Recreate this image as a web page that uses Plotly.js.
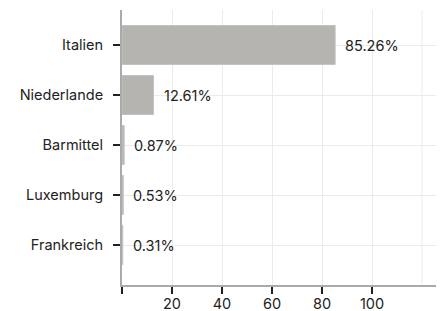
<!DOCTYPE html>
<html><head><meta charset="utf-8">
<script src="https://cdn.plot.ly/plotly-3.0.1.min.js"></script>
<style>html,body{margin:0;padding:0;background:#fff}#c{width:443px;height:311px}</style>
</head><body><div id="c"></div>
<script>
const categories = ["Italien", "Niederlande", "Barmittel", "Luxemburg", "Frankreich"];
const values = [85.26, 12.61, 0.87, 0.53, 0.31];
const labels = ["85.26%", "12.61%", "0.87%", "0.53%", "0.31%"];
const tickVals = [0, 20, 40, 60, 80, 100];
const tickText = ["", "20", "40", "60", "80", "100"];

const font = {family: "Inter, 'Noto Sans', sans-serif", size: 14.5, color: "#222"};
const trace = {
  type: "bar", orientation: "h", x: values, y: categories,
  marker: {color: "#b5b4b0", line: {color: "#c4c3bf", width: 1}},
  width: 0.78, hoverinfo: "none"
};
const annotations = values.map((v, i) => ({
  x: v, y: categories[i], xref: "x", yref: "y", text: labels[i],
  showarrow: false, xanchor: "left", xshift: 8, font: font
}));
const layout = {
  width: 443, height: 311,
  margin: {l: 122, r: 7, t: 10, b: 26},
  paper_bgcolor: "#fff", plot_bgcolor: "#fff",
  font: font, showlegend: false,
  xaxis: {range: [0, 125.6], tickvals: tickVals, ticktext: tickText,
    showgrid: true, gridcolor: "#ebebeb", gridwidth: 1,
    showline: true, linecolor: "#aaa", linewidth: 2,
    ticks: "outside", ticklen: 7, tickwidth: 2, tickcolor: "#222",
    ticklabelstandoff: -2,
    zeroline: false, fixedrange: true},
  yaxis: {type: "category", range: [4.8, -0.7], showgrid: true, gridcolor: "#ebebeb",
    showline: true, linecolor: "#aaa", linewidth: 2,
    ticks: "outside", ticklen: 7, tickwidth: 2, tickcolor: "#222",
    ticklabelstandoff: 7,
    zeroline: false, fixedrange: true},
  shapes: [{type: "line", xref: "x", yref: "paper", x0: 120, x1: 120, y0: 0, y1: 1,
    line: {color: "#ebebeb", width: 1}, layer: "below"}],
  annotations: annotations
};
Plotly.newPlot("c", [trace], layout, {displayModeBar: false, staticPlot: true});
</script></body></html>
